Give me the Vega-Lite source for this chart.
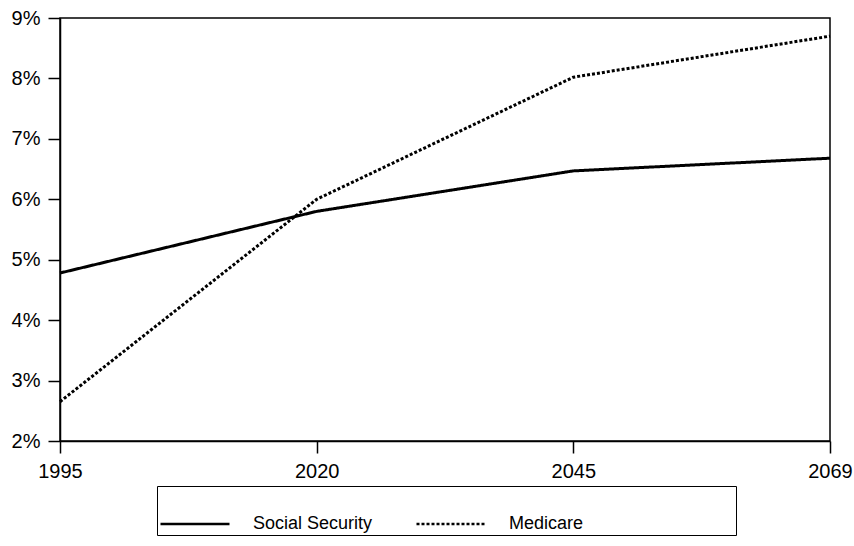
{
  "$schema": "https://vega.github.io/schema/vega-lite/v6.json",
  "width": 770,
  "height": 423,
  "autosize": {"type": "none"},
  "padding": {"left": 60, "top": 18, "right": 24, "bottom": 105},
  "background": "white",
  "config": {
    "font": "Liberation Sans",
    "view": {"stroke": "black", "strokeWidth": 1.5},
    "axis": {"grid": false, "domainColor": "black", "tickColor": "black", "labelColor": "black", "labelFont": "Liberation Sans", "labelFontSize": 20, "domainWidth": 1.5, "tickWidth": 1.5}
  },
  "data": {
    "values": [
      {"year": "1995", "program": "Social Security", "value": 0.0478},
      {"year": "2020", "program": "Social Security", "value": 0.058},
      {"year": "2045", "program": "Social Security", "value": 0.0647},
      {"year": "2069", "program": "Social Security", "value": 0.0668},
      {"year": "1995", "program": "Medicare", "value": 0.0265},
      {"year": "2020", "program": "Medicare", "value": 0.06},
      {"year": "2045", "program": "Medicare", "value": 0.0802},
      {"year": "2069", "program": "Medicare", "value": 0.087}
    ]
  },
  "mark": {"type": "line", "color": "black", "strokeWidth": 3},
  "encoding": {
    "x": {
      "field": "year", "type": "ordinal",
      "scale": {"type": "point", "padding": 0},
      "axis": {"title": null, "labelAngle": 0, "tickSize": 12, "labelPadding": 8}
    },
    "y": {
      "field": "value", "type": "quantitative",
      "scale": {"domain": [0.02, 0.09], "nice": false},
      "axis": {"title": null, "format": ".0%", "values": [0.02,0.03,0.04,0.05,0.06,0.07,0.08,0.09], "tickSize": 12, "labelPadding": 8}
    },
    "strokeDash": {
      "field": "program", "type": "nominal",
      "scale": {"domain": ["Social Security", "Medicare"], "range": [[1, 0], [3, 2]]},
      "legend": {
        "title": null,
        "orient": "none",
        "legendX": 97,
        "legendY": 468,
        "direction": "horizontal",
        "strokeColor": "black",
        "padding": 2,
        "symbolType": "stroke",
        "symbolSize": 4761,
        "symbolStrokeWidth": 2.5,
        "symbolStrokeColor": "black",
        "labelFont": "Liberation Sans",
        "labelFontSize": 18,
        "labelColor": "black",
        "labelOffset": 22,
        "columnPadding": 38,
        "labelLimit": 400,
        "labelExpr": "datum.label == 'Medicare' ? datum.label + '\u00a0\u00a0\u00a0\u00a0\u00a0\u00a0\u00a0\u00a0\u00a0\u00a0\u00a0\u00a0\u00a0\u00a0\u00a0\u00a0\u00a0\u00a0\u00a0\u00a0\u00a0\u00a0\u00a0\u00a0\u00a0\u00a0\u00a0\u00a0\u00a0\u00a0\u200d' : datum.label"
      }
    }
  }
}
